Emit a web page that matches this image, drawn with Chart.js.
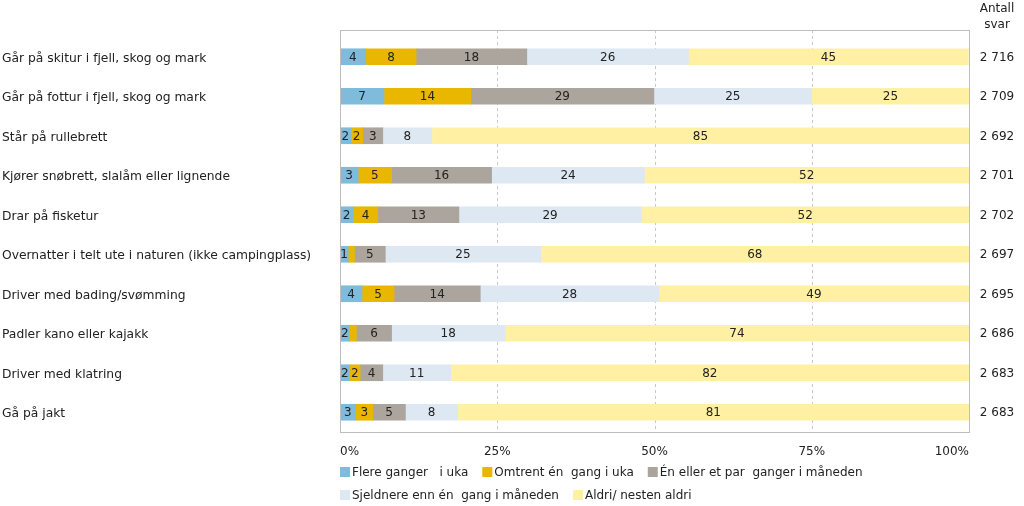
<!DOCTYPE html>
<html><head><meta charset="utf-8">
<script src="https://cdn.jsdelivr.net/npm/chart.js@4"></script>
<style>html,body{margin:0;padding:0;background:#fff}#wrap{width:1024px;height:506px;position:relative}</style>
</head><body><div id="wrap"><canvas id="c" width="1024" height="506"></canvas></div>
<script>
const categories = [
  "Går på skitur i fjell, skog og mark",
  "Går på fottur i fjell, skog og mark",
  "Står på rullebrett",
  "Kjører snøbrett, slalåm eller lignende",
  "Drar på fisketur",
  "Overnatter i telt ute i naturen (ikke campingplass)",
  "Driver med bading/svømming",
  "Padler kano eller kajakk",
  "Driver med klatring",
  "Gå på jakt"
];
const seriesNames = ["Flere ganger   i uka","Omtrent én  gang i uka","Én eller et par  ganger i måneden","Sjeldnere enn én  gang i måneden","Aldri/ nesten aldri"];
// percentages (labels show rounded values)
const flere    = [4.1, 7.0, 1.7, 2.9, 2.1, 1.3, 3.5, 1.5, 1.5, 2.5];
const omtrent  = [8.0, 13.8, 1.9, 5.3, 3.9, 1.0, 5.1, 1.1, 1.7, 2.7];
const enEller  = [17.6, 29.1, 3.2, 15.9, 12.9, 4.9, 13.7, 5.6, 3.6, 5.2];
const sjeldnere= [25.7, 25.1, 7.8, 24.3, 29.0, 24.7, 28.4, 18.0, 10.8, 8.3];
const aldri    = [44.5, 25.0, 85.4, 51.6, 52.1, 68.1, 49.3, 73.8, 82.4, 81.3];
const antallSvar = ["2 716","2 709","2 692","2 701","2 702","2 697","2 695","2 686","2 683","2 683"];
const xTicks = [0, 25, 50, 75, 100];
const colors = ["#7fbcdb","#e9b700","#aca59d","#dde8f3","#fff0a3"];

const FONT = "DejaVu Sans, Verdana, sans-serif";
const values = [flere, omtrent, enEller, sjeldnere, aldri];

const extras = {
  id: 'extras',
  beforeDatasetsDraw(chart) {
    const ctx = chart.ctx, a = chart.chartArea, x = chart.scales.x;
    ctx.save();
    ctx.strokeStyle = '#c8c8c8'; ctx.lineWidth = 1; ctx.setLineDash([3,3]);
    [25,50,75].forEach(v => {
      const px = Math.round(x.getPixelForValue(v)) + 0.5;
      ctx.beginPath(); ctx.moveTo(px, a.top - 7); ctx.lineTo(px, a.bottom); ctx.stroke();
    });
    ctx.restore();
  },
  afterDatasetsDraw(chart) {
    const ctx = chart.ctx, a = chart.chartArea, x = chart.scales.x, y = chart.scales.y;
    ctx.save();
    ctx.font = "12px " + FONT; ctx.fillStyle = '#222'; ctx.textAlign = 'center'; ctx.textBaseline = 'middle';
    chart.data.datasets.forEach((ds, di) => {
      const meta = chart.getDatasetMeta(di);
      meta.data.forEach((bar, i) => {
        const w = Math.abs(bar.x - bar.base);
        if (w < 7.5) return;
        ctx.fillText(String(Math.round(ds.data[i])), (bar.x + bar.base) / 2, bar.y + 1);
      });
    });
    ctx.strokeStyle = '#bdbdbd'; ctx.lineWidth = 1;
    ctx.strokeRect(Math.round(a.left) + 0.5, Math.round(a.top - 7) + 0.5, Math.round(a.right - a.left), Math.round(a.bottom - a.top + 7));
    ctx.fillStyle = '#222'; ctx.textBaseline = 'middle';
    xTicks.forEach((v, i) => {
      const px = x.getPixelForValue(v);
      ctx.textAlign = i === 0 ? 'left' : (i === xTicks.length - 1 ? 'right' : 'center');
      ctx.fillText(v + '%', px, a.bottom + 20);
    });
    ctx.textAlign = 'center';
    ctx.fillText('Antall', 997, 9);
    ctx.fillText('svar', 997, 25);
    antallSvar.forEach((s, i) => {
      ctx.fillText(s, 997, y.getPixelForValue(i) + 1);
    });
    let lx = a.left, ly = 472;
    ctx.textAlign = 'left';
    seriesNames.forEach((n, i) => {
      const tw = ctx.measureText(n).width;
      const iw = 12 + tw;
      if (lx + iw > a.right + 5) { lx = a.left; ly += 23; }
      ctx.fillStyle = colors[i];
      ctx.fillRect(lx, ly - 5, 10, 10);
      ctx.fillStyle = '#222';
      ctx.fillText(n, lx + 12, ly + 1);
      lx += iw + 14;
    });
    ctx.restore();
  }
};

new Chart(document.getElementById('c'), {
  type: 'bar',
  data: {
    labels: categories,
    datasets: seriesNames.map((n, i) => ({
      label: n, data: values[i], backgroundColor: colors[i], barThickness: 16, borderWidth: 0
    }))
  },
  options: {
    indexAxis: 'y', responsive: false, animation: false,
    layout: { padding: { left: 2, right: 55, top: 37, bottom: 44 } },
    plugins: { legend: { display: false }, tooltip: { enabled: false } },
    scales: {
      x: {
        stacked: true, min: 0, max: 100,
        grid: { display: false }, border: { display: false },
        ticks: { display: false },
        afterFit(s) { s.height = 30; }
      },
      y: {
        stacked: true,
        grid: { display: false }, border: { display: false },
        ticks: { crossAlign: 'far', color: '#222', font: { family: FONT, size: 12.3 }, padding: 4, labelOffset: 2 },
        afterFit(s) { s.width = 338; }
      }
    }
  },
  plugins: [extras]
});
</script>
</body></html>
